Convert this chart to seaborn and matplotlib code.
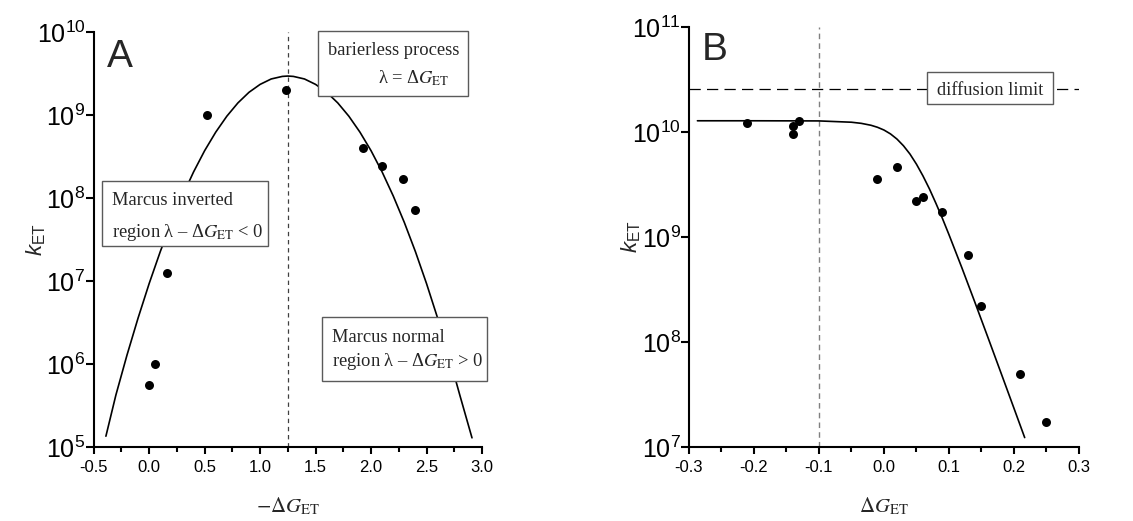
import math
import matplotlib
matplotlib.use("Agg")
import matplotlib.pyplot as plt
from matplotlib.ticker import MultipleLocator, LogLocator, FuncFormatter, NullLocator
from matplotlib.patches import Rectangle
import seaborn as sns

# ---- Panel A: k_ET versus -dG_ET (Marcus inverted / normal regions) ----
dg_a = [0.00, 0.05, 0.16, 0.52, 1.23, 1.93, 2.10, 2.29, 2.40]
k_a = [5.6e5, 1.0e6, 1.26e7, 1.0e9, 2.0e9, 4.0e8, 2.45e8, 1.7e8, 7.1e7]

fit_dg_a = [-0.39, -0.30, -0.20, -0.10, 0.00, 0.10, 0.20, 0.30, 0.40, 0.50, 0.60, 0.70,
            0.80, 0.90, 1.00, 1.10, 1.20, 1.25, 1.30, 1.40, 1.50, 1.60, 1.70, 1.80,
            1.90, 2.00, 2.10, 2.20, 2.30, 2.40, 2.50, 2.60, 2.70, 2.80, 2.91]
fit_k_a = [1.35e5, 4.23e5, 1.28e6, 3.58e6, 9.33e6, 2.26e7, 5.08e7, 1.06e8, 2.06e8, 3.72e8,
           6.22e8, 9.68e8, 1.40e9, 1.88e9, 2.34e9, 2.72e9, 2.92e9, 2.95e9, 2.92e9, 2.72e9,
           2.34e9, 1.88e9, 1.40e9, 9.68e8, 6.22e8, 3.72e8, 2.06e8, 1.06e8, 5.08e7, 2.26e7,
           9.33e6, 3.58e6, 1.28e6, 4.23e5, 1.29e5]
lambda_a = 1.25

# ---- Panel B: k_ET versus dG_ET (diffusion-limited plateau) ----
dg_b = [-0.21, -0.14, -0.14, -0.13, -0.01, 0.02, 0.05, 0.06, 0.09, 0.13, 0.15, 0.21, 0.25]
k_b = [1.23e10, 9.5e9, 1.14e10, 1.28e10, 3.57e9, 4.6e9, 2.19e9, 2.42e9, 1.72e9,
       6.8e8, 2.2e8, 4.95e7, 1.72e7]

fit_dg_b = [-0.287, -0.20, -0.10, -0.05, -0.035, -0.02, -0.01, 0.00, 0.01, 0.02, 0.03, 0.04,
            0.05, 0.06, 0.07, 0.08, 0.09, 0.10, 0.12, 0.14, 0.16, 0.18, 0.20, 0.2165]
fit_k_b = [1.28e10, 1.28e10, 1.276e10, 1.24e10, 1.21e10, 1.16e10, 1.11e10, 1.045e10, 9.6e9,
           8.57e9, 7.4e9, 6.17e9, 4.94e9, 3.82e9, 2.87e9, 2.09e9, 1.50e9, 1.054e9, 5.07e8,
           2.38e8, 1.104e8, 5.09e7, 2.34e7, 1.23e7]
diffusion_limit = 2.55e10
dg_b_mark = -0.1

sns.set_theme(style="ticks")
plt.rcParams.update({
    "font.family": ["Liberation Sans", "DejaVu Sans"],
    "mathtext.fontset": "custom",
    "mathtext.rm": "Liberation Sans",
    "mathtext.it": "Liberation Sans:italic",
    "mathtext.bf": "Liberation Sans:bold",
    "axes.unicode_minus": False,
    "axes.linewidth": 1.5,
    "xtick.major.width": 1.5,
    "ytick.major.width": 1.5,
    "xtick.minor.width": 1.5,
    "xtick.major.size": 5,
    "ytick.major.size": 5.5,
    "xtick.minor.size": 3.5,
    "xtick.direction": "out",
    "ytick.direction": "out",
    "axes.edgecolor": "black",
    "xtick.color": "black",
    "ytick.color": "black",
})

fig = plt.figure(figsize=(11.33, 5.21), dpi=100)
ax_a = fig.add_axes([0.0827, 0.1420, 0.3427, 0.7965])
ax_b = fig.add_axes([0.6081, 0.1420, 0.3442, 0.8061])

SERIF = ["Liberation Serif", "DejaVu Serif"]
BOX_FS = 13.3
EDGE = "#5a5a5a"


def decade_label(v, pos):
    return r"$\mathregular{10^{%d}}$" % round(math.log10(v))


def style_axes(ax, xlim, ylim, major, minor):
    ax.set_yscale("log")
    ax.set_xlim(*xlim)
    ax.set_ylim(*ylim)
    ax.xaxis.set_major_locator(MultipleLocator(major))
    ax.xaxis.set_minor_locator(MultipleLocator(minor))
    ax.yaxis.set_major_locator(LogLocator(base=10, numticks=20))
    ax.yaxis.set_minor_locator(NullLocator())
    ax.yaxis.set_major_formatter(FuncFormatter(decade_label))
    ax.tick_params(axis="x", labelsize=12, pad=4)
    ax.tick_params(axis="y", labelsize=18, pad=0.5)
    sns.despine(ax=ax)
    ax.set_ylabel(r"$k_{\mathrm{ET}}$", fontsize=16, labelpad=-8)


def text_box(ax, x0, y0, x1, y1):
    ax.add_patch(Rectangle((x0, y0), x1 - x0, y1 - y0, transform=ax.transAxes,
                           facecolor="white", edgecolor=EDGE, linewidth=1.0,
                           clip_on=False, zorder=5))


def box_text(ax, x, y, s):
    ax.text(x, y, s, transform=ax.transAxes, fontsize=BOX_FS, family=SERIF,
            math_fontfamily="stix", ha="left", va="baseline", zorder=6)


# ---- Panel A ----
style_axes(ax_a, (-0.5, 3.0), (1e5, 1e10), 0.5, 0.25)
ax_a.axvline(lambda_a, color="#404040", lw=0.9, linestyle=(0, (3.5, 3.0)), zorder=1)
sns.lineplot(x=fit_dg_a, y=fit_k_a, ax=ax_a, color="black", lw=1.2,
             sort=False, estimator=None, zorder=2)
sns.scatterplot(x=dg_a, y=k_a, ax=ax_a, color="black", s=42, linewidth=0, zorder=3)

text_box(ax_a, 0.578, 0.8465, 0.965, 1.003)
box_text(ax_a, 0.603, 0.9446, "barierless process")
box_text(ax_a, 0.732, 0.8763, r"λ = Δ$G_{\mathrm{ET}}$")

text_box(ax_a, 0.0206, 0.485, 0.4497, 0.6417)
box_text(ax_a, 0.046, 0.583, "Marcus inverted")
box_text(ax_a, 0.046, 0.5068, r"region λ – Δ$G_{\mathrm{ET}}$ < 0")

text_box(ax_a, 0.587, 0.160, 1.0135, 0.314)
box_text(ax_a, 0.613, 0.2537, "Marcus normal")
box_text(ax_a, 0.613, 0.195, r"region λ – Δ$G_{\mathrm{ET}}$ > 0")

ax_a.text(0.0335, 0.983, "A", transform=ax_a.transAxes, fontsize=28,
          ha="left", va="top", zorder=6)
ax_a.set_xlabel(r"$-\Delta G_{\mathrm{ET}}$", fontsize=15, math_fontfamily="stix",
                labelpad=15)

# ---- Panel B ----
style_axes(ax_b, (-0.3, 0.3), (1e7, 1e11), 0.1, 0.05)
ax_b.axvline(dg_b_mark, color="#808080", lw=1.0, linestyle=(0, (4.0, 3.0)), zorder=1)
ax_b.axhline(diffusion_limit, color="black", lw=0.9, linestyle=(0, (9.0, 5.0)), zorder=1)
sns.lineplot(x=fit_dg_b, y=fit_k_b, ax=ax_b, color="black", lw=1.2,
             sort=False, estimator=None, zorder=2)
sns.scatterplot(x=dg_b, y=k_b, ax=ax_b, color="black", s=42, linewidth=0, zorder=3)

text_box(ax_b, 0.6095, 0.816, 0.9326, 0.892)
box_text(ax_b, 0.635, 0.838, "diffusion limit")

ax_b.text(0.0326, 0.989, "B", transform=ax_b.transAxes, fontsize=28,
          ha="left", va="top", zorder=6)
ax_b.set_xlabel(r"$\Delta G_{\mathrm{ET}}$", fontsize=15, math_fontfamily="stix",
                labelpad=15)

fig.savefig("out.png", dpi=100, facecolor="white")
